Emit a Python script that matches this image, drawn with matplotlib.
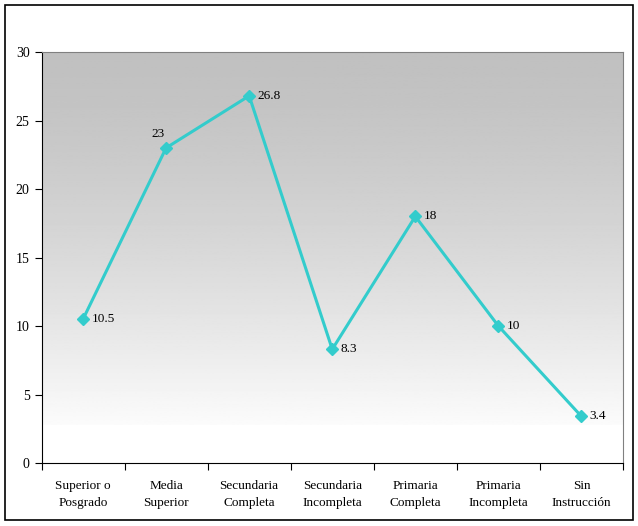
import numpy as np
import matplotlib
matplotlib.use('Agg')
import matplotlib.pyplot as plt
from matplotlib.patches import Rectangle

categories = ['Superior o\nPosgrado', 'Media\nSuperior', 'Secundaria\nCompleta',
              'Secundaria\nIncompleta', 'Primaria\nCompleta', 'Primaria\nIncompleta',
              'Sin\nInstrucción']
values = [10.5, 23, 26.8, 8.3, 18, 10, 3.4]
labels = ['10.5', '23', '26.8', '8.3', '18', '10', '3.4']

plt.rcParams['font.family'] = ['Liberation Serif', 'DejaVu Serif']

fig = plt.figure(figsize=(6.38, 5.26), dpi=100)
fig.patches.append(Rectangle((5 / 638, 1 - 520 / 526), 628 / 638, 515 / 526,
                             transform=fig.transFigure, fill=False,
                             edgecolor='black', linewidth=1.2))

ax = fig.add_axes([41.5 / 638, 1 - 463 / 526, 581.5 / 638, 411 / 526])
x = np.arange(len(values))
ax.set_xlim(-0.5, len(values) - 0.5)
ax.set_ylim(0, 30)

# 背景グラデーション（上: 灰色 -> 下: 白）
t = np.linspace(0, 1, 256) ** 1.4
grad = (0.753 + (0.985 - 0.753) * t).reshape(-1, 1)
ax.imshow(grad, cmap='gray', vmin=0, vmax=1, aspect='auto', origin='upper',
          extent=(-0.5, len(values) - 0.5, 2.8, 30), zorder=0)

ax.plot(x, values, '-', color='#33CCCC', linewidth=2.2, marker='D',
        markersize=6, zorder=3)

for i, (v, lab) in enumerate(zip(values, labels)):
    if i == 1:
        ax.annotate(lab, (i, v), xytext=(-6, 6), textcoords='offset points',
                    ha='center', va='bottom', fontsize=9.5)
    else:
        ax.annotate(lab, (i, v), xytext=(6, 0), textcoords='offset points',
                    ha='left', va='center', fontsize=9.5)

ax.set_yticks(range(0, 31, 5))
ax.set_xticks(np.arange(-0.5, len(values), 1))
ax.set_xticklabels([])
ax.set_xticks(x, minor=True)
ax.set_xticklabels(categories, minor=True, fontsize=9.5, linespacing=1.6)
ax.tick_params(axis='x', which='minor', length=0, pad=12)
ax.tick_params(axis='x', which='major', length=5, direction='out')
ax.tick_params(axis='y', length=5, direction='out', labelsize=10)

for side in ['top', 'right']:
    ax.spines[side].set_color('#808080')
for side in ['left', 'bottom']:
    ax.spines[side].set_color('black')

plt.savefig('out.png', dpi=100)
